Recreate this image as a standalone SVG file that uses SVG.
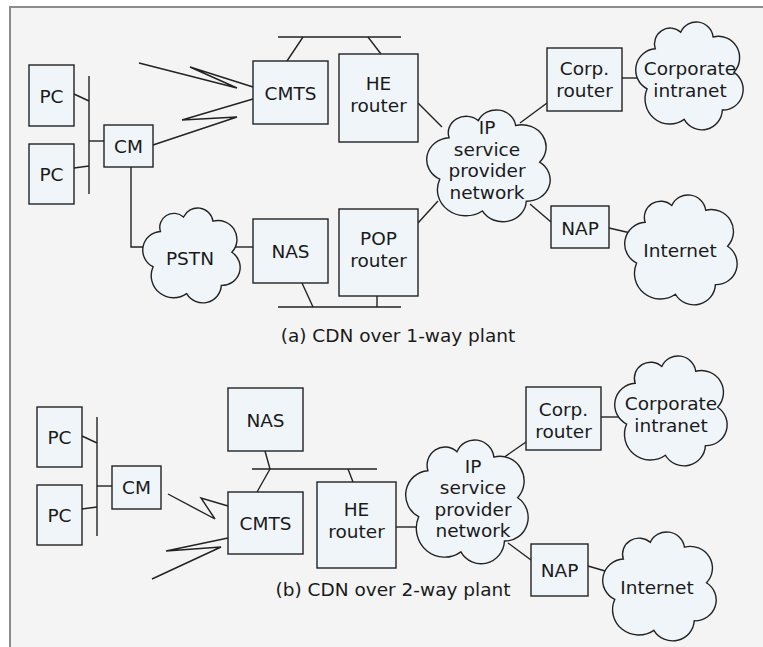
<svg xmlns="http://www.w3.org/2000/svg" xmlns:xlink="http://www.w3.org/1999/xlink" width="763" height="647" viewBox="0 0 763 647">
  <style>
    .bg { fill: #f4f4f4; }
    .frame { fill: none; stroke: #8c8c8c; stroke-width: 2; }
    .box { fill: #f0f5fa; stroke: #222; stroke-width: 1.4; }
    .cloud { fill: #f0f5fa; stroke: #222; stroke-width: 1.4; vector-effect: non-scaling-stroke; }
    .wire { fill: none; stroke: #222; stroke-width: 1.4; stroke-linejoin: miter; }
    text { font-family: "DejaVu Sans", "Open Sans", sans-serif; font-size: 18.5px; fill: #1a1a1a; text-anchor: middle; }
  </style>
  <defs>
    <!-- generic seven-lobed cloud; its outline spans x 3.4..95.8, y 5.3..97 -->
    <path id="cloudShape" class="cloud" d="M13,62 A18,18 0 0 1 20,28 A13.5,13.5 0 0 1 42,14 A14.7,14.7 0 0 1 70,18 A18.2,18.2 0 0 1 88,48 A17.4,17.4 0 0 1 78,80 A17.7,17.7 0 0 1 45,88 A21.4,21.4 0 0 1 13,62 Z"/>
  </defs>

  <!-- page -->
  <rect width="763" height="647" fill="#ffffff"/>
  <rect class="bg" x="10" y="7" width="753" height="640"/>
  <path class="frame" d="M10,647 V7 H763"/>

  <!-- connectors -->
  <g id="connectors" class="wire">
    <!-- (a) one-way plant -->
    <line x1="89" y1="76" x2="89" y2="194"/>
    <line x1="74" y1="94" x2="89" y2="101"/>
    <line x1="74" y1="168" x2="89" y2="166"/>
    <line x1="89" y1="141" x2="104" y2="141"/>
    <polyline points="153,145 237,117 182,120 253,99"/>
    <polyline points="139,63 237,88 190,67 253,87"/>
    <polyline points="131,167 131,247 152,247"/>
    <line x1="232" y1="247" x2="253" y2="247"/>
    <line x1="278" y1="37" x2="401" y2="37"/>
    <line x1="287" y1="61" x2="303" y2="37"/>
    <line x1="381" y1="54" x2="368" y2="37"/>
    <line x1="418" y1="103" x2="442" y2="127"/>
    <line x1="278" y1="307" x2="401" y2="307"/>
    <line x1="302" y1="283" x2="313" y2="307"/>
    <line x1="377" y1="296" x2="377" y2="307"/>
    <line x1="418" y1="223" x2="438" y2="201"/>
    <line x1="547" y1="103" x2="520" y2="123"/>
    <line x1="622" y1="78" x2="645" y2="78"/>
    <line x1="551" y1="222" x2="530" y2="204"/>
    <line x1="609" y1="228" x2="635" y2="234"/>
    <!-- (b) two-way plant -->
    <line x1="97" y1="417" x2="97" y2="536"/>
    <line x1="82" y1="436" x2="97" y2="443"/>
    <line x1="82" y1="509" x2="97" y2="507"/>
    <line x1="97" y1="486" x2="112" y2="486"/>
    <polyline points="168,494 215,519 201,498 228,506"/>
    <polyline points="152,579 221,547 166,551 228,538"/>
    <polyline points="265,451 270,469 257,492"/>
    <line x1="252" y1="469" x2="377" y2="469"/>
    <line x1="353" y1="482" x2="348" y2="469"/>
    <line x1="396" y1="527" x2="418" y2="527"/>
    <line x1="526" y1="442" x2="503" y2="458"/>
    <line x1="601" y1="417" x2="622" y2="417"/>
    <line x1="531" y1="560" x2="508" y2="543"/>
    <line x1="588" y1="566" x2="612" y2="573"/>
  </g>

  <!-- (a) CDN over 1-way plant -->
  <g id="a-pc1"><rect class="box" x="29" y="65" width="45" height="61"/><text x="51.5" y="103">PC</text></g>
  <g id="a-pc2"><rect class="box" x="29" y="144" width="45" height="60"/><text x="51.5" y="181">PC</text></g>
  <g id="a-cm"><rect class="box" x="104" y="125" width="49" height="42"/><text x="128.5" y="153">CM</text></g>
  <g id="a-cmts"><rect class="box" x="253" y="61" width="75" height="63"/><text x="290.5" y="100">CMTS</text></g>
  <g id="a-he-router"><rect class="box" x="339" y="54" width="79" height="88"/><text x="378.5" y="90">HE</text><text x="378.5" y="111.5">router</text></g>
  <g id="a-nas"><rect class="box" x="253" y="219" width="75" height="64"/><text x="290.5" y="258">NAS</text></g>
  <g id="a-pop-router"><rect class="box" x="339" y="209" width="79" height="87"/><text x="378.5" y="245">POP</text><text x="378.5" y="266.5">router</text></g>
  <g id="a-pstn"><use xlink:href="#cloudShape" transform="translate(143 208) scale(1.050 1.036) translate(-3.4 -5.3)"/><text x="190" y="265">PSTN</text></g>
  <g id="a-ip-network"><use xlink:href="#cloudShape" transform="translate(427 110) scale(1.331 1.221) translate(-3.4 -5.3)"/><text x="487" y="134">IP</text><text x="487" y="155.5">service</text><text x="487" y="177">provider</text><text x="487" y="198.5">network</text></g>
  <g id="a-corp-router"><rect class="box" x="547" y="48" width="75" height="63"/><text x="584.5" y="75">Corp.</text><text x="584.5" y="96.5">router</text></g>
  <g id="a-corp-intranet"><use xlink:href="#cloudShape" transform="translate(636 22) scale(1.158 1.178) translate(-3.4 -5.3)"/><text x="690" y="75">Corporate</text><text x="690" y="96.5">intranet</text></g>
  <g id="a-nap"><rect class="box" x="551" y="206" width="58" height="42"/><text x="580" y="235">NAP</text></g>
  <g id="a-internet"><use xlink:href="#cloudShape" transform="translate(625 195) scale(1.212 1.200) translate(-3.4 -5.3)"/><text x="680" y="257">Internet</text></g>
  <text x="398" y="342">(a) CDN over 1-way plant</text>

  <!-- (b) CDN over 2-way plant -->
  <g id="b-pc1"><rect class="box" x="37" y="407" width="45" height="60"/><text x="59.5" y="444">PC</text></g>
  <g id="b-pc2"><rect class="box" x="37" y="485" width="45" height="60"/><text x="59.5" y="522">PC</text></g>
  <g id="b-cm"><rect class="box" x="112" y="466" width="49" height="43"/><text x="136.5" y="494">CM</text></g>
  <g id="b-nas"><rect class="box" x="228" y="388" width="75" height="63"/><text x="265.5" y="427">NAS</text></g>
  <g id="b-cmts"><rect class="box" x="228" y="492" width="75" height="62"/><text x="265.5" y="530">CMTS</text></g>
  <g id="b-he-router"><rect class="box" x="317" y="482" width="79" height="86"/><text x="356.5" y="516">HE</text><text x="356.5" y="537.5">router</text></g>
  <g id="b-ip-network"><use xlink:href="#cloudShape" transform="translate(406 440) scale(1.320 1.352) translate(-3.4 -5.3)"/><text x="473" y="472.5">IP</text><text x="473" y="494">service</text><text x="473" y="515.5">provider</text><text x="473" y="537">network</text></g>
  <g id="b-corp-router"><rect class="box" x="526" y="387" width="75" height="63"/><text x="563.5" y="416">Corp.</text><text x="563.5" y="437.5">router</text></g>
  <g id="b-corp-intranet"><use xlink:href="#cloudShape" transform="translate(615 356) scale(1.212 1.200) translate(-3.4 -5.3)"/><text x="671" y="410">Corporate</text><text x="671" y="431.5">intranet</text></g>
  <g id="b-nap"><rect class="box" x="531" y="544" width="57" height="52"/><text x="559.5" y="577">NAP</text></g>
  <g id="b-internet"><use xlink:href="#cloudShape" transform="translate(603 532) scale(1.223 1.189) translate(-3.4 -5.3)"/><text x="657" y="594">Internet</text></g>
  <text x="393" y="596">(b) CDN over 2-way plant</text>
</svg>
